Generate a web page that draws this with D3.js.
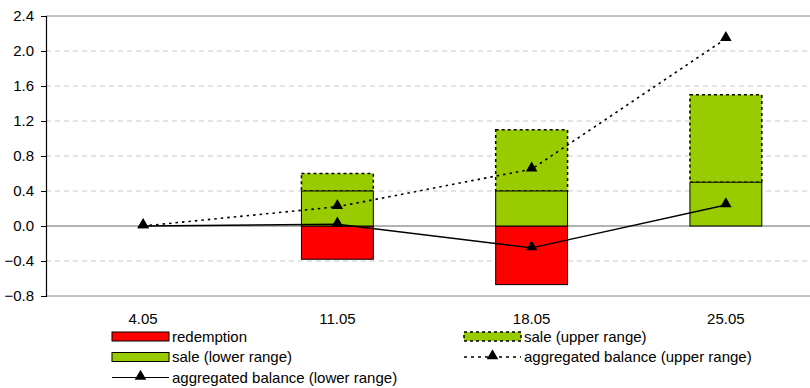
<!DOCTYPE html>
<html><head><meta charset="utf-8">
<script src="https://cdn.jsdelivr.net/npm/d3@7"></script>
<style>body{margin:0;background:#fff}svg{display:block}text{font-family:"Liberation Sans",Arial,sans-serif;font-size:15px;fill:#000}</style>
</head><body><svg id="c" width="810" height="388"></svg>
<script>
const categories = ["4.05","11.05","18.05","25.05"];
const redemption = [0, -0.38, -0.67, 0];
const saleLower = [0, 0.4, 0.4, 0.5];
const saleUpper = [0, 0.2, 0.7, 1.0];
const balanceLower = [0, 0.02, -0.25, 0.24];
const balanceUpper = [0, 0.22, 0.65, 2.14];
const yTicks = [-0.8,-0.4,0,0.4,0.8,1.2,1.6,2.0,2.4];

const svg = d3.select("#c");
const L=46, R=823, T=16, B=296;
const x = d3.scaleBand().domain(categories).range([L,R]).paddingInner(0.63).paddingOuter(0.315);
const xc = d => x(d)+x.bandwidth()/2;
const y = d3.scaleLinear().domain([-0.8,2.4]).range([B,T]);

// gridlines
svg.append("g").selectAll("line").data(yTicks).join("line")
  .attr("x1",L).attr("x2",R).attr("y1",d=>y(d)).attr("y2",d=>y(d))
  .attr("stroke-width",1)
  .attr("stroke-dasharray",d=>(d===0||d===2.4||d===-0.8)?null:"5,4")
  .attr("stroke",d=>d===0?"#666":(d===2.4||d===-0.8)?"#888":"#c8c8c8");

// bars
const g = svg.append("g");
categories.forEach((c,i)=>{
  const bx = x(c), bw = x.bandwidth();
  if(redemption[i]!==0) g.append("rect").attr("x",bx).attr("width",bw)
    .attr("y",y(0)).attr("height",y(redemption[i])-y(0))
    .attr("fill","#ff0000").attr("stroke","#000").attr("stroke-width",1);
  if(saleUpper[i]!==0) g.append("rect").attr("x",bx).attr("width",bw)
    .attr("y",y(saleLower[i]+saleUpper[i])).attr("height",y(saleLower[i])-y(saleLower[i]+saleUpper[i]))
    .attr("fill","#99cc00").attr("stroke","#000").attr("stroke-width",1.5).attr("stroke-dasharray","3,3");
  if(saleLower[i]!==0) g.append("rect").attr("x",bx).attr("width",bw)
    .attr("y",y(saleLower[i])).attr("height",y(0)-y(saleLower[i]))
    .attr("fill","#99cc00").attr("stroke","#000").attr("stroke-width",1);
});

// axis
const ax = svg.append("g").attr("transform",`translate(${L},0)`)
  .call(d3.axisLeft(y).tickValues(yTicks).tickSize(5).tickPadding(7).tickFormat(d3.format(".1f")));
ax.select(".domain").attr("stroke","#000").attr("stroke-width",1.2);
ax.selectAll(".tick line").attr("stroke","#000");
ax.selectAll(".tick text").attr("font-size","15px").style("font-family","Liberation Sans, Arial, sans-serif").attr("fill","#000");

// x labels
svg.append("g").selectAll("text").data(categories).join("text")
  .attr("x",d=>xc(d)).attr("y",323.5).attr("text-anchor","middle").text(d=>d);

const tri = d3.symbol().type(d3.symbolTriangle).size(58);
function series(vals,dash){
  const line = d3.line().x((d,i)=>xc(categories[i])).y(d=>y(d));
  svg.append("path").attr("d",line(vals)).attr("fill","none").attr("stroke","#000")
    .attr("stroke-width",dash?1.6:1.3).attr("stroke-dasharray",dash?"2.5,4":null);
  svg.append("g").selectAll("path").data(vals).join("path")
    .attr("transform",(d,i)=>`translate(${xc(categories[i])},${y(d)-1})`).attr("d",tri).attr("fill","#000");
}
series(balanceUpper,true);
series(balanceLower,false);

// legend
const lg = svg.append("g");
function swatch(x0,yc,fill,dash,label){
  lg.append("rect").attr("x",x0).attr("y",yc-4.5).attr("width",57).attr("height",9)
    .attr("fill",fill).attr("stroke","#000").attr("stroke-width",dash?1.5:1).attr("stroke-dasharray",dash?"3,3":null);
  lg.append("text").attr("x",x0+60).attr("y",yc+5).text(label);
}
function lineItem(x0,yc,dash,label){
  lg.append("line").attr("x1",x0).attr("x2",x0+57).attr("y1",yc).attr("y2",yc)
    .attr("stroke","#000").attr("stroke-width",dash?1.6:1.2).attr("stroke-dasharray",dash?"3,4":null);
  lg.append("path").attr("transform",`translate(${x0+28.5},${yc-1})`).attr("d",tri).attr("fill","#000");
  lg.append("text").attr("x",x0+60).attr("y",yc+5).text(label);
}
swatch(112,336.5,"#ff0000",false,"redemption");
swatch(112,357,"#99cc00",false,"sale (lower range)");
lineItem(112,377.5,false,"aggregated balance (lower range)");
swatch(464,336.5,"#99cc00",true,"sale (upper range)");
lineItem(464,357,true,"aggregated balance (upper range)");
</script></body></html>
